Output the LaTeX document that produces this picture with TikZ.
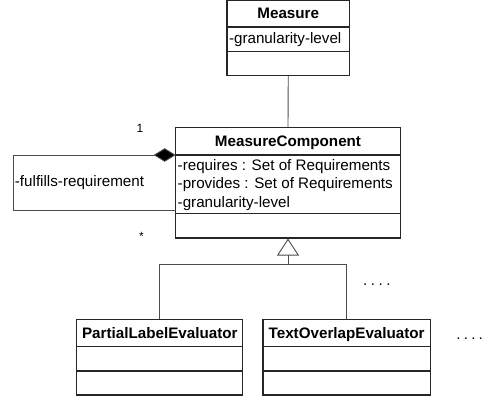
\documentclass[tikz,border=0pt]{standalone}
\usepackage{fontspec}
\setmainfont{Liberation Sans}
\usetikzlibrary{arrows.meta}
\begin{document}
\begin{tikzpicture}[x=1pt,y=-1pt,
  box/.style={draw=black!85,line width=1.1pt,inner sep=0pt,fill=white},
  divider/.style={draw=black!85,line width=1.1pt},
  conn/.style={draw=black!70,line width=0.9pt},
  ttl/.style={font=\fontsize{15.2}{18.2}\selectfont\bfseries,inner sep=0pt,anchor=base},
  attr/.style={font=\fontsize{15.2}{18.2}\selectfont,inner sep=0pt,anchor=base west},
  mult/.style={font=\fontsize{12}{14}\selectfont,inner sep=0pt,anchor=base}]
\useasboundingbox (0,0) rectangle (482,402);
% Measure
\node[box,minimum width=122.5pt,minimum height=74.8pt] (measure) at (288.25,37.9) {};
\draw[divider] (measure.west |- 0,27) -- (measure.east |- 0,27);
\draw[divider] (measure.west |- 0,51.7) -- (measure.east |- 0,51.7);
\node[ttl] (measuret) at (288.25,18.5) {Measure};
\node[attr] (measurea) at (228.8,43.3) {-granularity-level};
% MeasureComponent
\node[box,minimum width=224.6pt,minimum height=110.3pt] (mc) at (288,182.85) {};
\draw[divider] (mc.west |- 0,155) -- (mc.east |- 0,155);
\draw[divider] (mc.west |- 0,213.7) -- (mc.east |- 0,213.7);
\node[ttl] (mct) at (288,146) {MeasureComponent};
\node[attr] (mca1) at (177.5,170.7) {-requires : Set of Requirements};
\node[attr] (mca2) at (177.5,188.9) {-provides : Set of Requirements};
\node[attr] (mca3) at (177.5,207.1) {-granularity-level};
% association Measure -- MeasureComponent
\draw[conn] (measure.south) -- (mc.north);
% self composition
\coordinate (mcdia) at (175.7,155);
\coordinate (mcloop) at (175.7,210.3);
\coordinate (lt) at (13.3,155);
\coordinate (lb) at (13.3,210.3);
\draw[conn,-{Diamond[length=22pt,width=13.6pt,fill=black]}] (mcloop) -- (lb) -- (lt) -- (mcdia);
\node[attr] (fulfills) at (14.7,186) {-fulfills-requirement};
\node[mult] (one) at (140,132.7) {1};
\node[mult] (star) at (141.5,240.5) {*};
% subclasses
\node[box,minimum width=165.6pt,minimum height=75.7pt] (ple) at (159.5,357.15) {};
\draw[divider] (ple.west |- 0,346.7) -- (ple.east |- 0,346.7);
\draw[divider] (ple.west |- 0,371) -- (ple.east |- 0,371);
\node[ttl] (plet) at (159.8,338.3) {PartialLabelEvaluator};
\node[box,minimum width=167.3pt,minimum height=75.7pt] (toe) at (346.65,357.15) {};
\draw[divider] (toe.west |- 0,346.7) -- (toe.east |- 0,346.7);
\draw[divider] (toe.west |- 0,371) -- (toe.east |- 0,371);
\node[ttl] (toet) at (346.65,338.3) {TextOverlapEvaluator};
% generalization
\coordinate (gj) at (288,264.7);
\draw[conn,-{Triangle[open,length=17pt,width=22pt,fill=white]}] (ple.north) |- (gj) -- (mc.south);
\draw[conn] (toe.north) |- (gj);
% ellipses
\node[attr] (dots1) at (362.9,285.5) {.\kern3.5pt.\kern3.5pt.\kern3.5pt.};
\node[attr] (dots2) at (456.2,339.8) {.\kern3.2pt.\kern3.2pt.\kern3.2pt.};
\end{tikzpicture}
\end{document}
